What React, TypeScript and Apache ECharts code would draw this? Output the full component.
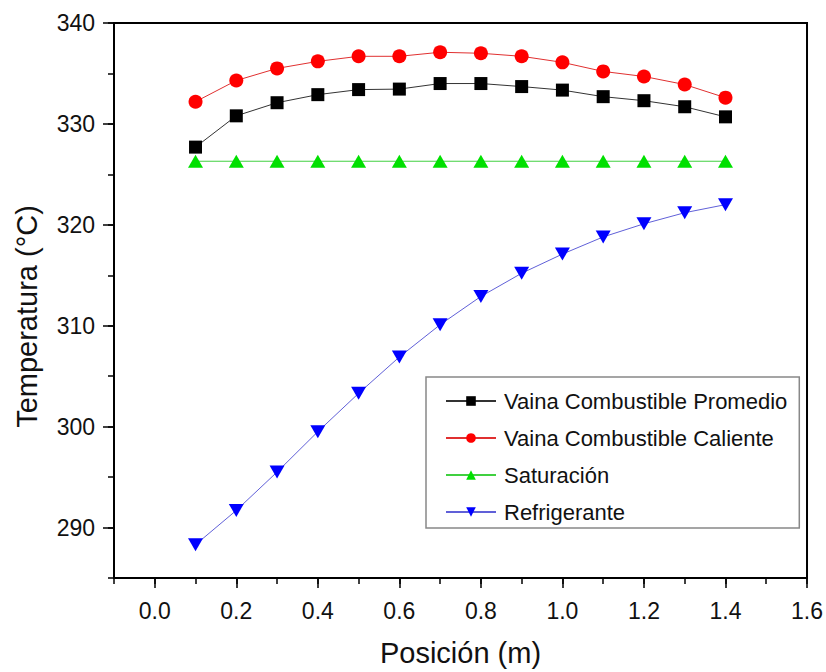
import { useEffect, useRef } from 'react';
import * as echarts from 'echarts';

const FONT = '"Liberation Sans", Arial, Helvetica, sans-serif';

const positions = [0.1, 0.2, 0.3, 0.4, 0.5, 0.6, 0.7, 0.8, 0.9, 1.0, 1.1, 1.2, 1.3, 1.4];
const promedio = [327.7, 330.8, 332.1, 332.9, 333.4, 333.45, 334.0, 334.0, 333.7, 333.35, 332.7, 332.3, 331.7, 330.7];
const caliente = [332.2, 334.3, 335.5, 336.2, 336.7, 336.7, 337.1, 337.0, 336.7, 336.1, 335.2, 334.7, 333.9, 332.6];
const saturacion = [326.3, 326.3, 326.3, 326.3, 326.3, 326.3, 326.3, 326.3, 326.3, 326.3, 326.3, 326.3, 326.3, 326.3];
const refrigerante = [288.3, 291.7, 295.5, 299.5, 303.3, 306.9, 310.1, 312.9, 315.2, 317.1, 318.8, 320.1, 321.2, 322.0];

const xMajorTicks = [0, 0.2, 0.4, 0.6, 0.8, 1.0, 1.2, 1.4, 1.6];
const yMajorTicks = [290, 300, 310, 320, 330, 340];

const seriesNames = [
  'Vaina Combustible Promedio',
  'Vaina Combustible Caliente',
  'Saturación',
  'Refrigerante',
];

const pairs = (ys: number[]) => positions.map((x, i) => [x, ys[i]]);

export default function App() {
  const ref = useRef<HTMLDivElement>(null);
  useEffect(() => {
    const chart = echarts.init(ref.current!, null, { renderer: 'svg' });
    const tickLine = { color: '#000', width: 1.5 };
    chart.setOption({
      animation: false,
      backgroundColor: '#fff',
      textStyle: { fontFamily: FONT },
      grid: {
        left: 114, right: 18, top: 23, bottom: 91,
        show: true, borderColor: '#000', borderWidth: 2, backgroundColor: 'transparent',
      },
      legend: {
        orient: 'vertical',
        left: 426, top: 377,
        padding: [12, 12, 4, 19],
        itemWidth: 50, itemHeight: 12, itemGap: 13,
        backgroundColor: '#fff',
        borderColor: '#888', borderWidth: 1.5,
        textStyle: { fontSize: 22, color: '#111', fontFamily: FONT, lineHeight: 24, padding: [0, 0, 0, 3] },
        data: seriesNames,
      },
      xAxis: [
        {
          type: 'value', min: -0.1, max: 1.6, interval: 0.1, position: 'bottom',
          axisLine: { show: true, onZero: false, lineStyle: { color: '#000', width: 2 } },
          axisTick: { show: true, length: 6, lineStyle: tickLine },
          axisLabel: {
            margin: 21, fontSize: 23, color: '#111', fontFamily: FONT,
            formatter: (v: number) => {
              const k = Math.round(v * 10);
              return k >= 0 && k % 2 === 0 ? (k / 10).toFixed(1) : '';
            },
          },
          splitLine: { show: false },
          name: 'Posición (m)', nameLocation: 'middle', nameGap: 60,
          nameTextStyle: { fontSize: 29, color: '#111', fontFamily: FONT },
        },
        {
          type: 'value', min: -0.1, max: 1.6, interval: 0.1, position: 'bottom',
          axisLine: { show: false, onZero: false },
          axisTick: { show: true, length: 10, customValues: xMajorTicks, lineStyle: tickLine },
          axisLabel: { show: false },
          splitLine: { show: false },
        },
      ],
      yAxis: [
        {
          type: 'value', min: 285, max: 340, interval: 5, position: 'left',
          axisLine: { show: true, onZero: false, lineStyle: { color: '#000', width: 2 } },
          axisTick: { show: true, length: 6, lineStyle: tickLine },
          axisLabel: {
            margin: 19, fontSize: 23, color: '#111', fontFamily: FONT,
            formatter: (v: number) => (Math.round(v) % 10 === 0 ? String(Math.round(v)) : ''),
          },
          splitLine: { show: false },
          name: 'Temperatura (°C)', nameLocation: 'middle', nameGap: 73,
          nameTextStyle: { fontSize: 29, color: '#111', fontFamily: FONT, padding: [0, 32, 0, 0] },
        },
        {
          type: 'value', min: 285, max: 340, interval: 5, position: 'left',
          axisLine: { show: false, onZero: false },
          axisTick: { show: true, length: 11, customValues: yMajorTicks, lineStyle: tickLine },
          axisLabel: { show: false },
          splitLine: { show: false },
        },
      ],
      series: [
        {
          name: seriesNames[0], type: 'line', data: pairs(promedio),
          symbol: 'rect', symbolSize: 13,
          itemStyle: { color: '#000' },
          lineStyle: { color: '#333', width: 1 },
        },
        {
          name: seriesNames[1], type: 'line', data: pairs(caliente),
          symbol: 'circle', symbolSize: 14,
          itemStyle: { color: '#ff0000' },
          lineStyle: { color: '#e03030', width: 1 },
        },
        {
          name: seriesNames[2], type: 'line', data: pairs(saturacion),
          symbol: 'triangle', symbolSize: [15, 13],
          itemStyle: { color: '#00e000' },
          lineStyle: { color: '#40d040', width: 1 },
        },
        {
          name: seriesNames[3], type: 'line', data: pairs(refrigerante),
          symbol: 'triangle', symbolSize: [15, 13], symbolRotate: 180,
          itemStyle: { color: '#0000ff' },
          lineStyle: { color: '#6060d8', width: 1 },
        },
      ],
    });
    return () => chart.dispose();
  }, []);
  return (
    <div
      ref={ref}
      style={{ position: 'fixed', left: 0, top: 0, width: 826, height: 672, background: '#fff' }}
    />
  );
}
